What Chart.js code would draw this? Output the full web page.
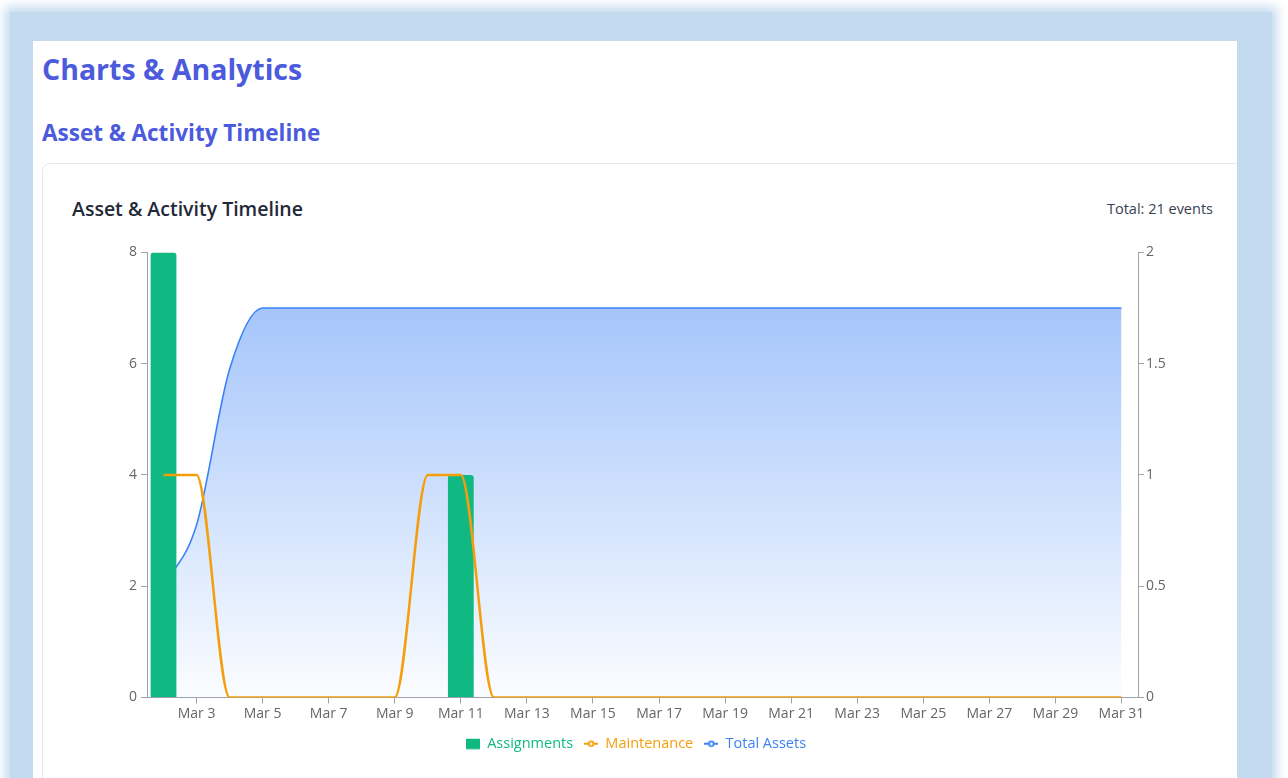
<!DOCTYPE html>
<html>
<head>
<meta charset="utf-8">
<script src="https://cdn.jsdelivr.net/npm/chart.js@4.4.1/dist/chart.umd.min.js"></script>
<style>
  html, body { margin: 0; padding: 0; width: 1288px; height: 778px; overflow: hidden; background: #fff; font-family: "Open Sans", "Noto Sans", sans-serif; }
  .frame { position: absolute; left: 10px; top: 12px; width: 1262px; height: 820px; background: #c4dbef; box-shadow: 0 0 10px 5px #c4dbef; }
  .panel { position: absolute; left: 33px; top: 41px; width: 1204px; height: 760px; background: #fff; overflow: hidden; }
  .card { position: absolute; left: 9px; top: 122px; width: 1260px; height: 700px; border: 1px solid #e5e7eb; border-radius: 8px; background: #fff; }
  .h1 { position: absolute; left: 42px; top: 49px; font-size: 28.5px; font-weight: 700; color: #4b5bdc; line-height: 40px; }
  .h2 { position: absolute; left: 42px; top: 117px; font-size: 22.5px; font-weight: 700; color: #4b5bdc; line-height: 32px; }
  .ctitle { position: absolute; left: 72px; top: 195px; font-size: 19.5px; font-weight: 600; color: #1f2937; line-height: 28px; }
  .total { position: absolute; right: 75px; top: 198px; font-size: 14.5px; color: #374151; line-height: 22px; }
  .chart-box { position: absolute; left: 100px; top: 240px; width: 1090px; height: 521px; }
</style>
</head>
<body>
<div class="frame"></div>
<div class="panel"><div class="card"></div></div>
<div class="h1">Charts &amp; Analytics</div>
<div class="h2">Asset &amp; Activity Timeline</div>
<div class="ctitle">Asset &amp; Activity Timeline</div>
<div class="total">Total: 21 events</div>
<div class="chart-box"><canvas id="timelineChart"></canvas></div>

<script>
// data
const days = ['Mar 2', 'Mar 3', 'Mar 4', 'Mar 5', 'Mar 6', 'Mar 7', 'Mar 8', 'Mar 9', 'Mar 10', 'Mar 11',
              'Mar 12', 'Mar 13', 'Mar 14', 'Mar 15', 'Mar 16', 'Mar 17', 'Mar 18', 'Mar 19', 'Mar 20', 'Mar 21',
              'Mar 22', 'Mar 23', 'Mar 24', 'Mar 25', 'Mar 26', 'Mar 27', 'Mar 28', 'Mar 29', 'Mar 30', 'Mar 31'];
const assignments = [8, 0, 0, 0, 0, 0, 0, 0, 0, 4, 0, 0, 0, 0, 0, 0, 0, 0, 0, 0, 0, 0, 0, 0, 0, 0, 0, 0, 0, 0];
const maintenance = [1, 1, 0, 0, 0, 0, 0, 0, 1, 1, 0, 0, 0, 0, 0, 0, 0, 0, 0, 0, 0, 0, 0, 0, 0, 0, 0, 0, 0, 0];
const totalAssets = [2, 3.1, 5.9, 7, 7, 7, 7, 7, 7, 7, 7, 7, 7, 7, 7, 7, 7, 7, 7, 7, 7, 7, 7, 7, 7, 7, 7, 7, 7, 7];
const leftTicks = [0, 2, 4, 6, 8];
const rightTicks = [0, 0.5, 1, 1.5, 2];

const GREEN = '#10b981';
const ORANGE = '#f59e0b';
const BLUE = '#3b82f6';
const AXIS = '#9ca3af';
const TICK_TEXT = '#666666';

// legend icons like the original (square / line with ring)
function squareIcon(color) {
    const c = document.createElement('canvas');
    c.width = 14; c.height = 14;
    const g = c.getContext('2d');
    g.fillStyle = color;
    g.fillRect(0, 2, 14, 10.5);
    return c;
}
function lineIcon(color) {
    const c = document.createElement('canvas');
    c.width = 14; c.height = 14;
    const g = c.getContext('2d');
    g.strokeStyle = color;
    g.lineWidth = 1.8;
    g.beginPath();
    g.moveTo(0, 7); g.lineTo(4.6, 7);
    g.moveTo(9.4, 7); g.lineTo(14, 7);
    g.stroke();
    g.beginPath();
    g.arc(7, 7, 2.4, 0, Math.PI * 2);
    g.stroke();
    return c;
}

function areaGradient(context) {
    const { ctx, chartArea } = context.chart;
    if (!chartArea) return 'rgba(59,130,246,0.3)';
    const grad = ctx.createLinearGradient(0, chartArea.top, 0, chartArea.bottom);
    grad.addColorStop(0, 'rgba(59,130,246,0.52)');
    grad.addColorStop(1, 'rgba(59,130,246,0.02)');
    return grad;
}

// legend sits a little left of centre in the original
const legendShift = {
    id: 'legendShift',
    afterLayout(chart) {
        if (chart.legend) {
            chart.legend.left -= 9;
            chart.legend.right -= 9;
        }
    }
};

const axisGrid = { drawOnChartArea: false, drawTicks: true, tickLength: 6, color: AXIS };
const axisBorder = { display: true, color: AXIS, width: 1 };
const tickFont = { family: "'Open Sans', sans-serif", size: 14 };

new Chart(document.getElementById('timelineChart'), {
    data: {
        labels: days,
        datasets: [
            {
                type: 'line',
                label: 'Maintenance',
                data: maintenance,
                yAxisID: 'y1',
                borderColor: ORANGE,
                borderWidth: 2.5,
                cubicInterpolationMode: 'monotone',
                pointRadius: 0,
                fill: false,
                order: 0
            },
            {
                type: 'bar',
                label: 'Assignments',
                data: assignments,
                yAxisID: 'y',
                backgroundColor: GREEN,
                borderRadius: 3,
                barPercentage: 0.78,
                categoryPercentage: 1,
                order: 1
            },
            {
                type: 'line',
                label: 'Total Assets',
                data: totalAssets,
                yAxisID: 'y',
                borderColor: BLUE,
                borderWidth: 1.6,
                backgroundColor: areaGradient,
                cubicInterpolationMode: 'monotone',
                pointRadius: 0,
                fill: 'origin',
                order: 2
            }
        ]
    },
    plugins: [legendShift],
    options: {
        responsive: true,
        maintainAspectRatio: false,
        animation: false,
        layout: { padding: { top: 12, left: 0, right: 0, bottom: 0 } },
        plugins: {
            tooltip: { enabled: false },
            legend: {
                position: 'bottom',
                labels: {
                    usePointStyle: true,
                    pointStyleWidth: 14,
                    padding: 11,
                    font: { family: "'Open Sans', sans-serif", size: 14.5 },
                    generateLabels: function(chart) {
                        const byLabel = {};
                        chart.data.datasets.forEach((ds, i) => { byLabel[ds.label] = i; });
                        return [
                            { text: 'Assignments', pointStyle: squareIcon(GREEN), fontColor: GREEN, datasetIndex: byLabel['Assignments'], lineWidth: 0 },
                            { text: 'Maintenance', pointStyle: lineIcon(ORANGE), fontColor: ORANGE, datasetIndex: byLabel['Maintenance'], lineWidth: 0 },
                            { text: 'Total Assets', pointStyle: lineIcon(BLUE), fontColor: BLUE, datasetIndex: byLabel['Total Assets'], lineWidth: 0 }
                        ];
                    }
                }
            }
        },
        scales: {
            x: {
                type: 'category',
                offset: true,
                grid: Object.assign({}, axisGrid, {
                    offset: false,
                    tickColor: (ctx) => (ctx.index % 2 === 1 ? AXIS : 'rgba(0,0,0,0)')
                }),
                border: axisBorder,
                ticks: {
                    autoSkip: false,
                    maxRotation: 0,
                    minRotation: 0,
                    padding: 2,
                    color: TICK_TEXT,
                    font: tickFont,
                    callback: function(value, index) {
                        return index % 2 === 1 ? this.getLabelForValue(value) : '';
                    }
                },
                afterFit: (scale) => { scale.height = 28; }
            },
            y: {
                position: 'left',
                min: 0,
                max: 8,
                grid: axisGrid,
                border: axisBorder,
                ticks: { padding: 4, color: TICK_TEXT, font: tickFont, callback: (v) => String(v) },
                afterBuildTicks: (scale) => { scale.ticks = leftTicks.map(v => ({ value: v })); },
                afterFit: (scale) => { scale.width = 47; }
            },
            y1: {
                position: 'right',
                min: 0,
                max: 2,
                grid: axisGrid,
                border: axisBorder,
                ticks: { padding: 2, color: TICK_TEXT, font: tickFont, callback: (v) => String(v) },
                afterBuildTicks: (scale) => { scale.ticks = rightTicks.map(v => ({ value: v })); },
                afterFit: (scale) => { scale.width = 52; }
            }
        }
    }
});
</script>
</body>
</html>
